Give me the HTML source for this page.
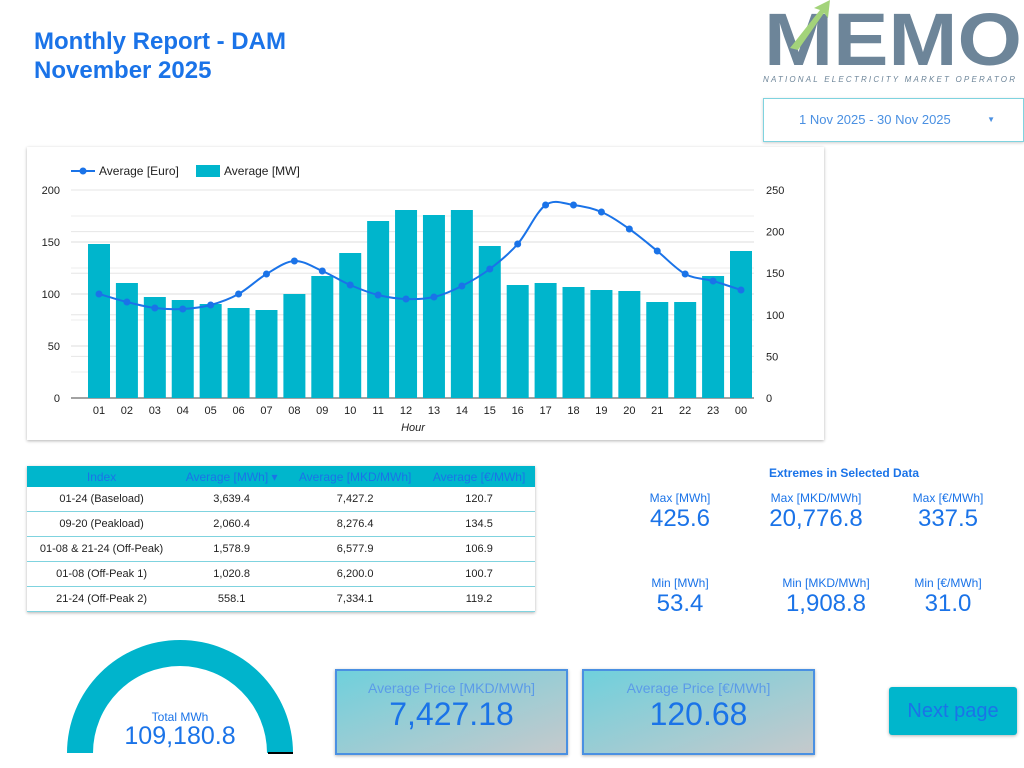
<!DOCTYPE html>
<html><head><meta charset="utf-8"><style>
body{margin:0;width:1024px;height:768px;background:#fff;font-family:"Liberation Sans",sans-serif;position:relative;overflow:hidden}
.a{position:absolute}
.title{left:34px;top:27px;color:#1a73e8;font-weight:bold;font-size:24px;line-height:29px}
.card{left:27px;top:147px;width:797px;height:293px;background:#fff;box-shadow:0 1px 3px rgba(0,0,0,.3)}
table{border-collapse:collapse;font-size:11px;color:#222}
td{height:24px;text-align:center;border-bottom:1.5px solid #7fd3df;padding:0}
th{height:21px;background:#00b6cc;color:#1a73e8;font-weight:normal;font-size:12px;padding:0}
.lab{color:#1a73e8;font-size:12px;text-align:center;width:120px}
.val{color:#1a73e8;font-size:24px;text-align:center;width:140px}
.box{width:229px;height:82px;border:2px solid #4a90e2;background:linear-gradient(160deg,#6fd0dc,#c5c9cc);text-align:center;color:#1a73e8;box-shadow:0 1px 3px rgba(0,0,0,.3)}
</style></head><body>
<div class="a title">Monthly Report - DAM<br>November 2025</div>
<div class="a" style="left:762px;top:0;width:262px;height:90px">
<svg width="262" height="90">
<text x="2" y="65" font-size="74" font-weight="bold" fill="#6d8599" font-family="Liberation Sans" textLength="258" lengthAdjust="spacingAndGlyphs">MEMO</text>
<polygon points="28,48 58,10 52,8 68,0 66,18 62,13 36,50" fill="#a3d37a"/>
<text x="1" y="82" font-size="8" font-style="italic" fill="#6d8599" textLength="252" lengthAdjust="spacing">NATIONAL ELECTRICITY MARKET OPERATOR</text>
</svg></div>
<div class="a" style="left:763px;top:98px;width:259px;height:42px;border:1px solid #7fd3df;box-shadow:0 1px 3px rgba(0,0,0,.2);color:#4a90e2;font-size:13px;line-height:42px"><span style="margin-left:35px">1 Nov 2025 - 30 Nov 2025</span><span style="position:absolute;right:28px;font-size:8px">▼</span></div>
<div class="a card"></div>
<svg class="a" style="left:0;top:0" width="830" height="445" id="ch" font-family="Liberation Sans" font-size="11"></svg>
<div class="a" style="left:27px;top:466px;width:508px;box-shadow:0 1px 3px rgba(0,0,0,.3)">
<table style="width:508px">
<tr><th>Index</th><th>Average [MWh] ▾</th><th>Average [MKD/MWh]</th><th>Average [€/MWh]</th></tr>
<tr><td>01-24 (Baseload)</td><td>3,639.4</td><td>7,427.2</td><td>120.7</td></tr>
<tr><td>09-20 (Peakload)</td><td>2,060.4</td><td>8,276.4</td><td>134.5</td></tr>
<tr><td>01-08 &amp; 21-24 (Off-Peak)</td><td>1,578.9</td><td>6,577.9</td><td>106.9</td></tr>
<tr><td>01-08 (Off-Peak 1)</td><td>1,020.8</td><td>6,200.0</td><td>100.7</td></tr>
<tr><td>21-24 (Off-Peak 2)</td><td>558.1</td><td>7,334.1</td><td>119.2</td></tr>
</table></div>
<div class="a" style="left:769px;top:466px;color:#1a73e8;font-weight:bold;font-size:12px">Extremes in Selected Data</div>
<div class="a lab" style="left:620px;top:491px">Max [MWh]</div><div class="a val" style="left:610px;top:505px">425.6</div>
<div class="a lab" style="left:756px;top:491px">Max [MKD/MWh]</div><div class="a val" style="left:746px;top:505px">20,776.8</div>
<div class="a lab" style="left:888px;top:491px">Max [€/MWh]</div><div class="a val" style="left:878px;top:505px">337.5</div>
<div class="a lab" style="left:620px;top:576px">Min [MWh]</div><div class="a val" style="left:610px;top:590px">53.4</div>
<div class="a lab" style="left:766px;top:576px">Min [MKD/MWh]</div><div class="a val" style="left:756px;top:590px">1,908.8</div>
<div class="a lab" style="left:888px;top:576px">Min [€/MWh]</div><div class="a val" style="left:878px;top:590px">31.0</div>
<svg class="a" style="left:0;top:620px" width="330" height="148">
<path d="M67,133 A113,113 0 0 1 293,133 L267,133 A87,87 0 0 0 93,133 Z" fill="#00b4cc"/>
<line x1="268" y1="133" x2="293" y2="133" stroke="#000" stroke-width="2"/>
</svg>
<div class="a" style="left:100px;top:710px;width:160px;text-align:center;color:#1a73e8;font-size:12px">Total MWh</div>
<div class="a" style="left:100px;top:722px;width:160px;text-align:center;color:#1a73e8;font-size:25px">109,180.8</div>
<div class="a box" style="left:335px;top:669px"><div style="font-size:14px;margin-top:9px;color:#5b9be8">Average Price [MKD/MWh]</div><div style="font-size:32px">7,427.18</div></div>
<div class="a box" style="left:582px;top:669px"><div style="font-size:14px;margin-top:9px;color:#5b9be8">Average Price [€/MWh]</div><div style="font-size:32px">120.68</div></div>
<div class="a" style="left:889px;top:687px;width:128px;height:48px;background:#00b6cc;border-radius:3px;box-shadow:0 1px 3px rgba(0,0,0,.3);color:#1a73e8;font-size:20px;text-align:center;line-height:48px">Next page</div>
<script>
var s=document.getElementById('ch'),h='';
function L(x1,y1,x2,y2,c,w){h+='<line x1="'+x1+'" y1="'+y1+'" x2="'+x2+'" y2="'+y2+'" stroke="'+c+'" stroke-width="'+(w||1)+'"/>';}
function T(x,y,t,a,ex){h+='<text x="'+x+'" y="'+y+'" text-anchor="'+(a||'middle')+'" fill="#222" '+(ex||'')+'>'+t+'</text>';}
for(var v=0;v<=200;v+=50){var y=398-v*1.04;L(71,y,754,y,'#ddd');T(60,y+4,v,'end');}
for(var v=0;v<=250;v+=50){var y=398-v*0.832;L(71,y,754,y,'#e6e6e6');T(766,y+4,v,'start');}
for(var v=25;v<200;v+=50){var y=398-v*1.04;L(71,y,754,y,'#eee');}
L(71,398,754,398,'#444');
var bt=[244,283,297,300,304,308,310,294,276,253,221,210,215,210,246,285,283,287,290,291,302,302,276,251];
var lp=[294,302,308,309,305,294,274,261,271,285,295,299,297,286,269,244,205,205,212,229,251,274,281,290];
var P=[];
for(var i=0;i<24;i++){var x=99+i*27.913;h+='<rect x="'+(x-11)+'" y="'+bt[i]+'" width="22" height="'+(398-bt[i])+'" fill="#00b5cc"/>';
T(x,414,i==23?'00':(i<9?'0':'')+(i+1));P.push([x,lp[i]]);}
var d='M'+P[0][0]+','+P[0][1];
for(var i=0;i<23;i++){var p0=P[Math.max(0,i-1)],p1=P[i],p2=P[i+1],p3=P[Math.min(23,i+2)];
d+=' C'+(p1[0]+(p2[0]-p0[0])/6)+','+(p1[1]+(p2[1]-p0[1])/6)+' '+(p2[0]-(p3[0]-p1[0])/6)+','+(p2[1]-(p3[1]-p1[1])/6)+' '+p2[0]+','+p2[1];}
h+='<path d="'+d+'" fill="none" stroke="#1a73e8" stroke-width="2"/>';
P.forEach(function(p){h+='<circle cx="'+p[0]+'" cy="'+p[1]+'" r="3.5" fill="#1a73e8"/>';});
T(413,431,'Hour','middle','font-style="italic"');
L(71,171,95,171,'#1a73e8',2);h+='<circle cx="83" cy="171" r="3.5" fill="#1a73e8"/>';T(99,175,'Average [Euro]','start','font-size="12"');
h+='<rect x="196" y="165" width="24" height="12" fill="#00b5cc"/>';T(224,175,'Average [MW]','start','font-size="12"');
s.innerHTML=h;
</script>
</body></html>
